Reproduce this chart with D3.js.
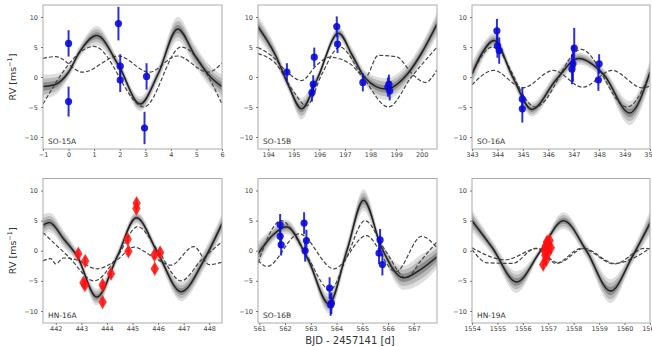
<!DOCTYPE html>
<html><head><meta charset="utf-8">
<script src="https://cdn.jsdelivr.net/npm/d3@7"></script>
<style>body{margin:0;background:#fff}svg{display:block}text{font-family:"DejaVu Sans",sans-serif}</style>
</head><body><svg id="c" width="652" height="346"></svg>
<script>
// ---------- data ----------
const panelNames = ["SO-15A","SO-15B","SO-16A","HN-16A","SO-16B","HN-19A"];
const xDomains = [[-1,6],[193.6,200.6],[343,350],[441.5,448.5],[560.95,567.9],[1554,1561]];
const xTicks = [[-1,0,1,2,3,4,5,6],[194,195,196,197,198,199,200],[343,344,345,346,347,348,349,350],
                [442,443,444,445,446,447,448],[561,562,563,564,565,566,567],[1554,1555,1556,1557,1558,1559,1560,1561]];
const yTicks = [-10,-5,0,5,10];
const yDomain = [-12,12];
const yLabel = "RV [ms";
const xLabel = "BJD - 2457141 [d]";

// GP mean knots: [time, rv, sd]
const gpSO15A = [[-1,-1.6,1.0],[-0.55,-1.3,0.9],[0,0.8,0.5],[0.45,4.3,0.5],[1.1,6.9,0.8],[1.95,2.0,0.5],[2.8,-4.5,0.6],[3.5,0.5,0.6],[4.27,8.0,1.0],[4.95,3.5,0.9],[5.55,0.0,0.9],[6,-1.6,1.0]];
const gpSO15B = [[193.6,8.4,0.9],[194.3,3.5,0.7],[194.8,-1.5,0.5],[195.3,-5.3,0.9],[195.9,-0.5,0.5],[196.75,7.3,0.5],[197.3,3.5,0.6],[197.8,-0.2,0.6],[198.6,-2.0,0.9],[199.5,0.8,0.8],[200.0,4.0,0.8],[200.6,8.8,1.0]];
const gpSO16A = [[343,0.5,1.0],[343.4,4.0,0.7],[343.87,6.1,0.6],[344.6,0.0,0.5],[345.35,-5.4,0.6],[346.3,-0.5,0.6],[347.2,3.1,0.5],[348.2,0.3,0.5],[349.2,-6.0,1.0],[350,0.8,1.0]];
const gpHN16A = [[441.5,4.2,0.9],[441.75,4.7,0.8],[442.3,2.0,0.7],[442.85,-1.0,0.5],[443.6,-7.7,0.7],[444.4,-1.0,0.5],[445.15,5.5,0.5],[446.0,-0.5,0.5],[446.9,-6.8,0.8],[447.8,-1.5,0.8],[448.5,4.5,0.8]];
const gpSO16B = [[560.95,-0.5,1.0],[561.5,2.5,0.6],[562.05,4.0,0.6],[562.9,-1.5,0.5],[563.7,-8.8,0.8],[564.4,0.0,0.7],[565.05,8.4,0.9],[565.75,0.5,0.5],[566.6,-4.5,1.0],[567.3,-3.0,1.2],[567.9,-1.0,1.0]];
const gpHN19A = [[1554,5.0,0.9],[1554.8,0.5,0.6],[1555.75,-5.2,0.9],[1556.7,0.0,0.3],[1557.6,5.0,0.7],[1558.5,0.0,0.6],[1559.45,-6.7,1.0],[1560.3,-1.0,0.6],[1561,4.6,1.0]];

// dashed model components: [time, rv]
const dashASO15A = [[-1,3.1],[-0.5,3.4],[0.55,0.8],[1.95,3.5],[3.15,0.8],[4.25,3.5],[5.45,0.8],[6,2.3]];
const dashBSO15A = [[-1,-4.5],[1.0,5.1],[2.95,-5.0],[4.4,5.0],[6,-4.5]];
const dashASO15B = [[193.6,4.9],[194.2,3.3],[194.7,1.0],[195.3,-0.6],[195.9,2.0],[196.4,3.3],[197.2,2.2],[197.8,0.0],[198.3,3.6],[199.0,3.4],[199.7,0.2],[200.15,-0.9],[200.6,1.2]];
const dashBSO15B = [[193.6,3.9],[194.3,2.2],[195.0,-2.5],[195.5,-4.8],[196.1,0.5],[196.8,5.0],[197.7,0.0],[198.7,-5.0],[199.6,0.0],[200.6,5.0]];
const dashASO16A = [[343,-1.3],[343.85,1.1],[345.0,-1.8],[346.2,1.1],[347.35,-1.7],[348.5,1.1],[349.7,-1.8],[350,-1.5]];
const dashBSO16A = [[343,0.5],[343.8,5.0],[345.5,-5.0],[347.3,4.6],[349.1,-5.0],[350,0.5]];
const dashAHN16A = [[441.5,-1.7],[441.8,-1.3],[442.0,-2.2],[442.3,-1.2],[442.8,-1.5],[443.6,-3.0],[444.4,-1.5],[445.05,0.6],[445.8,-1.0],[446.5,-2.4],[447.4,0.7],[448.0,-2.3],[448.5,-1.9]];
const dashBHN16A = [[441.5,3.0],[442.5,-1.0],[443.5,-5.0],[444.4,-1.0],[445.2,4.0],[446.0,0.0],[446.9,-5.0],[447.7,-1.5],[448.5,1.5]];
const dashASO16B = [[560.95,-1.6],[561.3,-2.6],[562.55,2.8],[563.9,-3.0],[565.15,2.5],[566.3,-3.5],[567.3,2.4],[567.9,0.5]];
const dashBSO16B = [[560.95,-2.0],[561.85,5.0],[562.8,-0.5],[563.75,-6.5],[564.4,-1.0],[565.1,5.0],[565.9,0.0],[566.7,-4.5],[567.3,-1.5],[567.9,1.5]];
const dashAHN19A = [[1554,0.5],[1555.3,-1.5],[1556.6,0.4],[1557.3,-2.1],[1558.3,0.4],[1559.6,-2.2],[1560.8,0.4],[1561,0.3]];
const dashBHN19A = [[1554,0.2],[1554.6,-2.0],[1555.6,-2.1],[1556.5,0.4],[1557.4,-2.0],[1558.4,0.4],[1559.6,-2.1],[1561,0.4]];

// observations: [time, rv, err]
const obsSO15A = [[0.0,5.6,2.2],[0.0,-4.1,2.5],[1.95,8.9,2.8],[2.02,1.8,2.0],[2.02,-0.5,2.0],[3.05,0.1,2.2],[2.97,-8.5,2.7]];
const obsSO15B = [[194.73,0.8,1.5],[195.8,3.3,1.6],[195.76,-1.2,1.5],[195.71,-2.6,1.5],[196.68,8.4,1.7],[196.71,5.5,1.5],[197.7,-0.9,1.5],[198.72,-1.2,1.6],[198.68,-1.7,1.6],[198.75,-2.3,1.6]];
const obsSO16A = [[343.98,7.7,2.0],[344.0,5.2,2.0],[344.07,4.4,2.2],[344.98,-3.7,2.0],[344.98,-5.3,2.3],[347.02,4.8,3.4],[346.97,2.2,3.0],[346.93,1.3,2.5],[348.0,2.2,1.6],[347.97,-0.5,1.8]];
const obsHN16A = [[442.88,-0.5,0.7],[443.15,-1.7,0.7],[443.08,-5.3,0.7],[443.14,-5.7,0.7],[443.83,-5.7,0.7],[444.16,-3.8,0.7],[443.83,-8.5,0.7],[444.81,1.9,0.7],[444.84,-0.1,0.7],[445.16,7.9,0.7],[445.15,7.0,0.7],[445.86,-0.7,0.7],[446.08,-0.3,0.7],[445.87,-3.0,0.7]];
const obsSO16B = [[561.81,4.3,1.8],[561.81,2.4,1.8],[561.85,1.0,1.8],[562.74,4.6,1.8],[562.83,1.7,1.8],[562.78,0.0,1.8],[563.73,-6.2,1.8],[563.8,-8.7,1.8],[563.77,-9.0,1.8],[565.69,1.8,1.8],[565.65,-0.4,1.8],[565.78,-2.3,1.8]];
const obsHN19A = [[1556.85,0.0,0.8],[1556.9,0.8,0.8],[1556.95,1.5,0.8],[1557.0,1.0,0.8],[1557.05,1.7,0.8],[1556.88,-0.8,0.8],[1556.92,-1.5,0.8],[1556.8,-2.3,0.8],[1557.1,0.5,0.8],[1557.0,-0.3,0.8],[1556.95,0.3,0.8]];

const gpAll = [gpSO15A,gpSO15B,gpSO16A,gpHN16A,gpSO16B,gpHN19A];
const dashA = [dashASO15A,dashASO15B,dashASO16A,dashAHN16A,dashASO16B,dashAHN19A];
const dashB = [dashBSO15A,dashBSO15B,dashBSO16A,dashBHN16A,dashBSO16B,dashBHN19A];
const obsAll = [obsSO15A,obsSO15B,obsSO16A,obsHN16A,obsSO16B,obsHN19A];

// ---------- layout ----------
const colX = [[43,222],[258,437],[472,650]];
const rowY = [[5,149],[178.5,323]];
const svg = d3.select("#c");
const fmt = d => d < 0 ? "\u2212" + Math.abs(d) : String(d);

panelNames.forEach((name, i) => {
  const c = i % 3, r = Math.floor(i / 3);
  const [x0, x1] = colX[c], [y0, y1] = rowY[r];
  const x = d3.scaleLinear().domain(xDomains[i]).range([x0, x1]);
  const y = d3.scaleLinear().domain(yDomain).range([y1, y0]);
  const g = svg.append("g");
  const cid = "clip" + i;
  g.append("clipPath").attr("id", cid).append("rect").attr("x", x0).attr("y", y0).attr("width", x1 - x0).attr("height", y1 - y0);
  const pg = g.append("g").attr("clip-path", `url(#${cid})`);

  const gp = gpAll[i];
  [[2.0, 0.13], [1.35, 0.16], [0.7, 0.24]].forEach(([k, op]) => {
    pg.append("path").datum(gp)
      .attr("d", d3.area().curve(d3.curveMonotoneX).x(d => x(d[0])).y0(d => y(d[1] - k * d[2])).y1(d => y(d[1] + k * d[2])))
      .attr("fill", "#000").attr("fill-opacity", op);
  });
  const line = d3.line().curve(d3.curveMonotoneX).x(d => x(d[0])).y(d => y(d[1]));
  [dashA[i], dashB[i]].forEach(ds => {
    pg.append("path").datum(ds).attr("d", line).attr("fill", "none")
      .attr("stroke", "#444").attr("stroke-width", 1.2).attr("stroke-dasharray", "4,2");
  });
  pg.append("path").datum(gp).attr("d", line).attr("fill", "none").attr("stroke", "#222").attr("stroke-width", 1.5);

  const isHN = name.startsWith("HN");
  const col = isHN ? "#ff1010" : "#0a0ad8";
  const obs = obsAll[i];
  pg.selectAll(".eb").data(obs).enter().append("line")
    .attr("x1", d => x(d[0])).attr("x2", d => x(d[0]))
    .attr("y1", d => y(d[1] - d[2])).attr("y2", d => y(d[1] + d[2]))
    .attr("stroke", col).attr("stroke-width", 2).attr("stroke-opacity", 0.85);
  if (isHN) {
    pg.selectAll(".pt").data(obs).enter().append("path")
      .attr("d", d3.symbol(d3.symbolDiamond, 60))
      .attr("transform", d => `translate(${x(d[0])},${y(d[1])})`)
      .attr("fill", col).attr("fill-opacity", 0.85);
  } else {
    pg.selectAll(".pt").data(obs).enter().append("circle")
      .attr("cx", d => x(d[0])).attr("cy", d => y(d[1])).attr("r", 3.6)
      .attr("fill", col).attr("fill-opacity", 0.9);
  }

  g.append("rect").attr("x", x0).attr("y", y0).attr("width", x1 - x0).attr("height", y1 - y0)
    .attr("fill", "none").attr("stroke", "#aaa").attr("stroke-width", 1);

  const ax = g.append("g").attr("transform", `translate(0,${y1})`)
    .call(d3.axisBottom(x).tickValues(xTicks[i]).tickFormat(fmt).tickSize(2).tickPadding(1.5));
  const ay = g.append("g").attr("transform", `translate(${x0},0)`)
    .call(d3.axisLeft(y).tickValues(yTicks).tickFormat(fmt).tickSize(2).tickPadding(3));
  [ax, ay].forEach(a => {
    a.select(".domain").remove();
    a.selectAll("line").attr("stroke", "#777");
    a.selectAll("text").attr("font-size", 6.5).attr("fill", "#444").attr("font-family", "DejaVu Sans, sans-serif");
  });

  g.append("text").attr("x", x0 + 5).attr("y", y1 - 5).attr("font-size", 7.5).attr("fill", "#333").text(name);

  if (c === 0) {
    const t = g.append("text").attr("transform", `translate(16,${(y0 + y1) / 2}) rotate(-90)`)
      .attr("text-anchor", "middle").attr("font-size", 9.5).attr("fill", "#333");
    t.append("tspan").text(yLabel);
    t.append("tspan").attr("font-size", 6.5).attr("dy", -4).text("\u22121");
    t.append("tspan").attr("dy", 4).text("]");
  }
});

svg.append("text").attr("x", 350).attr("y", 344).attr("text-anchor", "middle")
  .attr("font-size", 10).attr("fill", "#333").text(xLabel);
</script></body></html>
